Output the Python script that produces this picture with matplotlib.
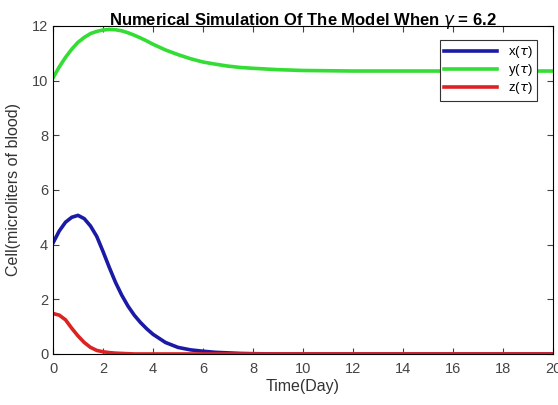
import numpy as np
import matplotlib.pyplot as plt

plt.rcParams['font.family'] = ['Liberation Sans', 'DejaVu Sans']
plt.rcParams['mathtext.fontset'] = 'dejavusans'

# values
t = [0, 0.25, 0.5, 0.75, 1.0, 1.25, 1.5, 1.75, 2.0, 2.25, 2.5, 2.75, 3.0, 3.25, 3.5,
     3.75, 4.0, 4.5, 5.0, 5.5, 6.0, 6.5, 7.0, 7.5, 8.0, 9.0, 10.0, 12.0, 14.0, 16.0, 18.0, 20.0]
x_vals = [4.06, 4.5, 4.82, 5.0, 5.07, 4.95, 4.68, 4.3, 3.75, 3.17, 2.62, 2.15, 1.75, 1.42, 1.15,
          0.92, 0.72, 0.42, 0.24, 0.15, 0.1, 0.06, 0.04, 0.02, 0.01, 0.0, 0.0, 0.0, 0.0, 0.0, 0.0, 0.0]
y_vals = [10.1, 10.5, 10.85, 11.15, 11.4, 11.58, 11.72, 11.8, 11.85, 11.87, 11.86, 11.82, 11.75, 11.66, 11.56,
          11.45, 11.33, 11.12, 10.95, 10.8, 10.68, 10.6, 10.53, 10.48, 10.45, 10.4, 10.37, 10.35, 10.35, 10.35, 10.35, 10.35]
z_vals = [1.48, 1.42, 1.25, 0.94, 0.66, 0.42, 0.24, 0.13, 0.08, 0.05, 0.03, 0.02, 0.01, 0.0, 0.0,
          0.0, 0.0, 0.0, 0.0, 0.0, 0.0, 0.0, 0.0, 0.0, 0.0, 0.0, 0.0, 0.0, 0.0, 0.0, 0.0, 0.0]

fig = plt.figure(figsize=(5.58, 4.05), dpi=100)
ax = fig.add_axes([0.095, 0.126, 0.896, 0.81])

ax.plot(t, x_vals, color='#1a1aa6', lw=2.6, label=r'x($\tau$)')
ax.plot(t, y_vals, color='#33dd33', lw=2.6, label=r'y($\tau$)')
ax.plot(t, z_vals, color='#dd2222', lw=2.6, label=r'z($\tau$)')

ax.set_xlim(0, 20)
ax.set_ylim(0, 12)
ax.set_xticks(np.arange(0, 21, 2))
ax.set_yticks(np.arange(0, 13, 2))
ax.tick_params(direction='in', top=True, right=True, labelsize=10.5, colors='#444444', length=4)
ax.tick_params(axis='x', pad=6)

ax.set_xlabel('Time(Day)', fontsize=11.5, color='#333333', labelpad=2)
ax.set_ylabel('Cell(microliters of blood)', fontsize=11.5, color='#333333', labelpad=8)
ax.set_title(r'Numerical Simulation Of The Model When $\gamma$ = 6.2',
             fontsize=12, fontweight='bold', pad=1)

leg = ax.legend(loc='upper right', bbox_to_anchor=(0.968, 0.958), borderaxespad=0,
                fontsize=9.5, handlelength=4, borderpad=0.35, labelspacing=0.15,
                fancybox=False, edgecolor='#333333', framealpha=1)
leg.get_frame().set_linewidth(0.8)

fig.savefig('out.png', dpi=100)
